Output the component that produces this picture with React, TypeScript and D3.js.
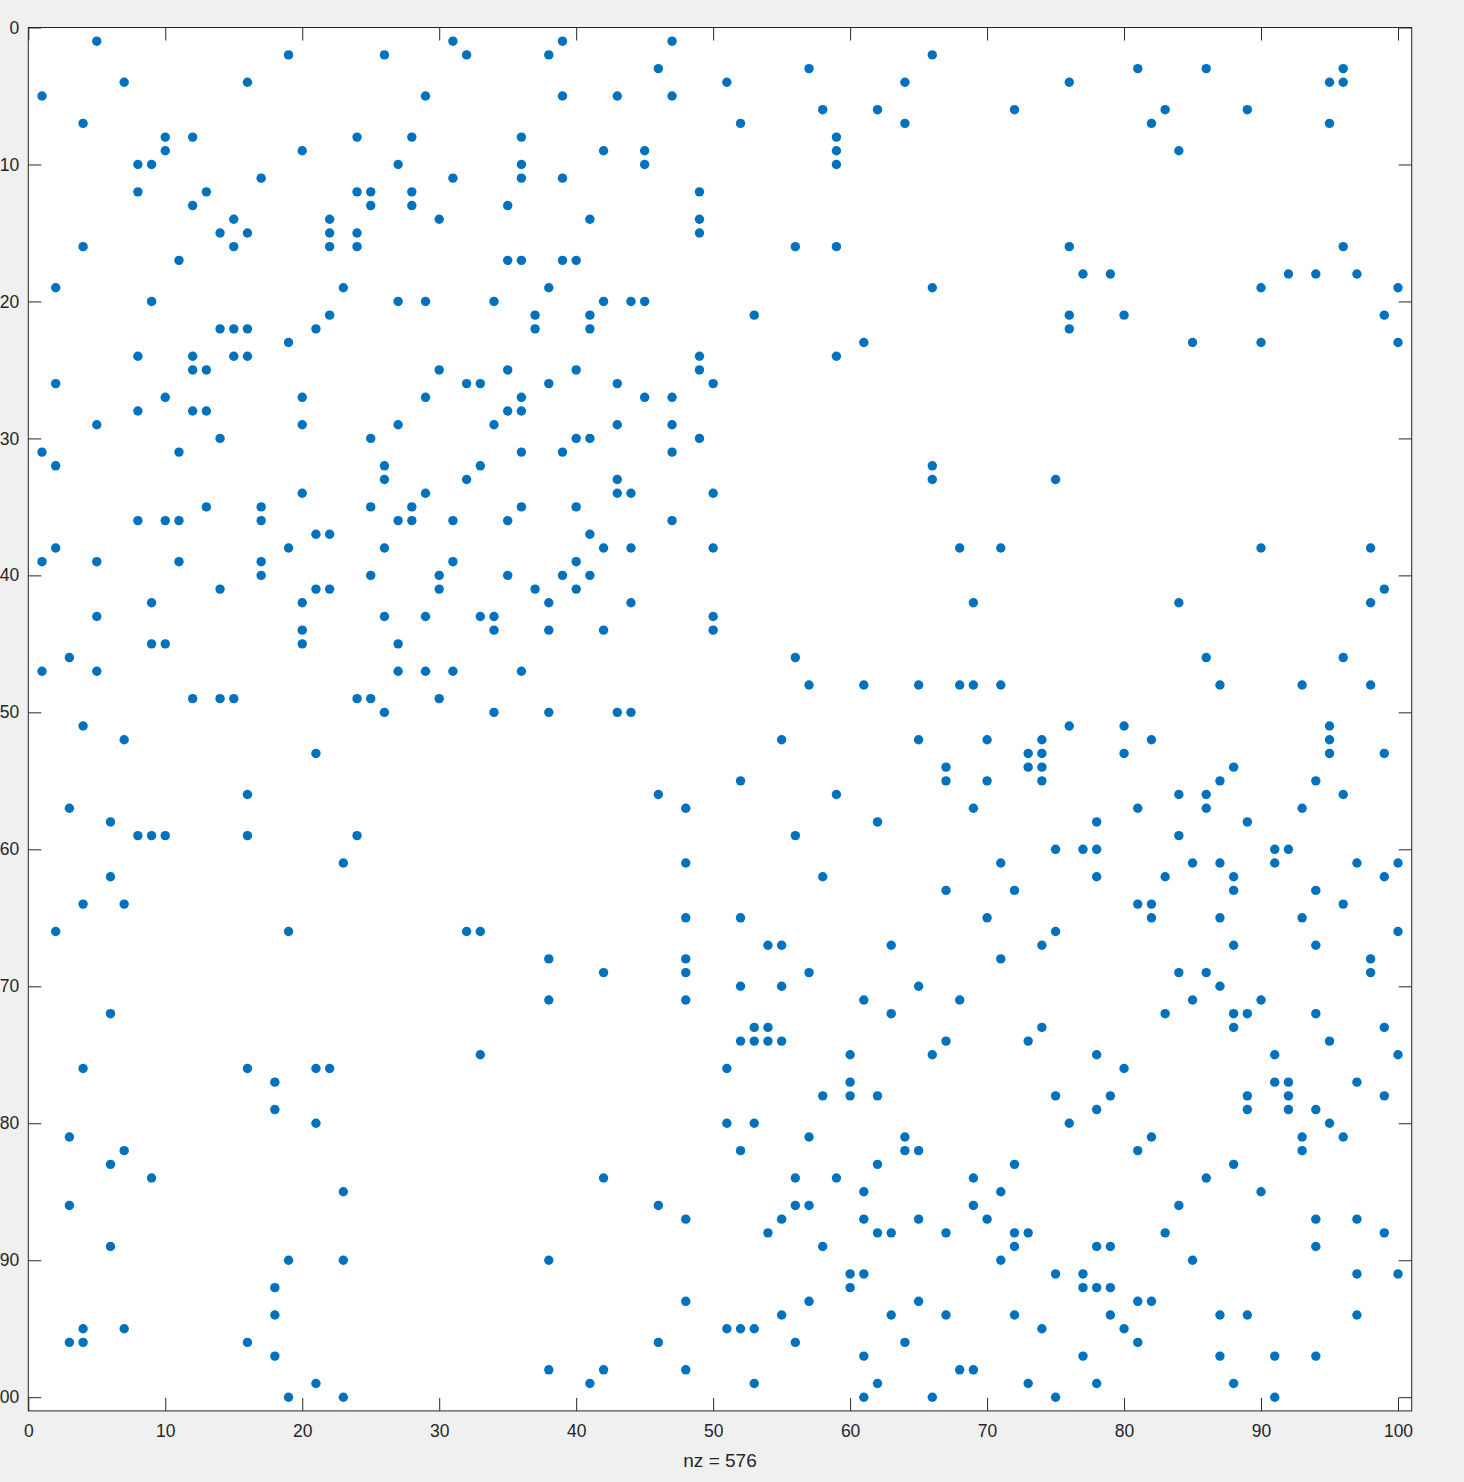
import React, { useEffect, useRef } from "react";
import * as d3 from "d3";

// Sparse matrix pattern: for each row (1..100), the column indices of its nonzeros
const ROW_COLS: number[][] = [
  [5, 31, 39, 47],
  [19, 26, 32, 38, 66],
  [46, 57, 81, 86, 96],
  [7, 16, 51, 64, 76, 95, 96],
  [1, 29, 39, 43, 47],
  [58, 62, 72, 83, 89],
  [4, 52, 64, 82, 95],
  [10, 12, 24, 28, 36, 59],
  [10, 20, 42, 45, 59, 84],
  [8, 9, 27, 36, 45, 59],
  [17, 31, 36, 39],
  [8, 13, 24, 25, 28, 49],
  [12, 25, 28, 35],
  [15, 22, 30, 41, 49],
  [14, 16, 22, 24, 49],
  [4, 15, 22, 24, 56, 59, 76, 96],
  [11, 35, 36, 39, 40],
  [77, 79, 92, 94, 97],
  [2, 23, 38, 66, 90, 100],
  [9, 27, 29, 34, 42, 44, 45],
  [22, 37, 41, 53, 76, 80, 99],
  [14, 15, 16, 21, 37, 41, 76],
  [19, 61, 85, 90, 100],
  [8, 12, 15, 16, 49, 59],
  [12, 13, 30, 35, 40, 49],
  [2, 32, 33, 38, 43, 50],
  [10, 20, 29, 36, 45, 47],
  [8, 12, 13, 35, 36],
  [5, 20, 27, 34, 43, 47],
  [14, 25, 40, 41, 49],
  [1, 11, 36, 39, 47],
  [2, 26, 33, 66],
  [26, 32, 43, 66, 75],
  [20, 29, 43, 44, 50],
  [13, 17, 25, 28, 36, 40],
  [8, 10, 11, 17, 27, 28, 31, 35, 47],
  [21, 22, 41],
  [2, 19, 26, 42, 44, 50, 68, 71, 90, 98],
  [1, 5, 11, 17, 31, 40],
  [17, 25, 30, 35, 39, 41],
  [14, 21, 22, 30, 37, 40, 99],
  [9, 20, 38, 44, 69, 84, 98],
  [5, 26, 29, 33, 34, 50],
  [20, 34, 38, 42, 50],
  [9, 10, 20, 27],
  [3, 56, 86, 96],
  [1, 5, 27, 29, 31, 36],
  [57, 61, 65, 68, 69, 71, 87, 93, 98],
  [12, 14, 15, 24, 25, 30],
  [26, 34, 38, 43, 44],
  [4, 76, 80, 95],
  [7, 55, 65, 70, 74, 82, 95],
  [21, 73, 74, 80, 95, 99],
  [67, 73, 74, 88],
  [52, 67, 70, 74, 87, 94],
  [16, 46, 59, 84, 86, 96],
  [3, 48, 69, 81, 86, 93],
  [6, 62, 78, 89],
  [8, 9, 10, 16, 24, 56, 84],
  [75, 77, 78, 91, 92],
  [23, 48, 71, 85, 87, 91, 97, 100],
  [6, 58, 78, 83, 88, 99],
  [67, 72, 88, 94],
  [4, 7, 81, 82, 96],
  [48, 52, 70, 82, 87, 93],
  [2, 19, 32, 33, 75, 100],
  [54, 55, 63, 74, 88, 94],
  [38, 48, 71, 98],
  [42, 48, 57, 84, 86, 98],
  [52, 55, 65, 87],
  [38, 48, 61, 68, 85, 90],
  [6, 63, 83, 88, 89, 94],
  [53, 54, 74, 88, 99],
  [52, 53, 54, 55, 67, 73, 95],
  [33, 60, 66, 78, 91, 100],
  [4, 16, 21, 22, 51, 80],
  [18, 60, 91, 92, 97],
  [58, 60, 62, 75, 79, 89, 92, 99],
  [18, 78, 89, 92, 94],
  [21, 51, 53, 76, 95],
  [3, 57, 64, 82, 93, 96],
  [7, 52, 64, 65, 81, 93],
  [6, 62, 72, 88],
  [9, 42, 56, 59, 69, 86],
  [23, 61, 71, 90],
  [3, 46, 56, 57, 69, 84],
  [48, 55, 61, 65, 70, 94, 97],
  [54, 62, 63, 67, 72, 73, 83, 99],
  [6, 58, 72, 78, 79, 94],
  [19, 23, 38, 71, 85],
  [60, 61, 75, 77, 97, 100],
  [18, 60, 77, 78, 79],
  [48, 57, 65, 81, 82],
  [18, 55, 63, 67, 72, 79, 87, 89, 97],
  [4, 7, 51, 52, 53, 74, 80],
  [3, 4, 16, 46, 56, 64, 81],
  [18, 61, 77, 87, 91, 94],
  [38, 42, 48, 68, 69],
  [21, 41, 53, 62, 73, 78, 88],
  [19, 23, 61, 66, 75, 91],
];

const N_SIZE = 100;
const X_TICKS = [0, 10, 20, 30, 40, 50, 60, 70, 80, 90, 100];
const Y_TICKS = [0, 10, 20, 30, 40, 50, 60, 70, 80, 90, 100];
const X_LABEL = "nz = 576";

const W = 1464;
const H = 1482;
const FONT = '"Liberation Sans", Arial, Helvetica, sans-serif';
const AXIS_COLOR = "#262626";
const DOT_COLOR = "#0072bd";

export default function App() {
  const ref = useRef<SVGSVGElement>(null);

  useEffect(() => {
    const svg = d3.select(ref.current);
    svg.selectAll("*").remove();

    svg.append("rect").attr("width", W).attr("height", H).attr("fill", "#f0f0f0");

    const x = d3.scaleLinear().domain([0, N_SIZE + 1]).range([28.3, 1411.7]);
    const y = d3.scaleLinear().domain([0, N_SIZE + 1]).range([27.5, 1410.9]);

    const x0 = x(0), x1 = x(N_SIZE + 1), y0 = y(0), y1 = y(N_SIZE + 1);

    svg.append("rect")
      .attr("x", x0).attr("y", y0)
      .attr("width", x1 - x0).attr("height", y1 - y0)
      .attr("fill", "#ffffff");

    const points = ROW_COLS.flatMap((cols, i) => cols.map((c) => ({ r: i + 1, c })));

    svg.append("g")
      .selectAll("circle")
      .data(points)
      .join("circle")
      .attr("cx", (d) => x(d.c))
      .attr("cy", (d) => y(d.r))
      .attr("r", 4.7)
      .attr("fill", DOT_COLOR);

    const tickLen = 13;

    const styleAxis = (g: d3.Selection<SVGGElement, unknown, null, undefined>) => {
      g.select(".domain").remove();
      g.selectAll(".tick line").attr("stroke", AXIS_COLOR).attr("stroke-width", 1);
      g.selectAll(".tick text")
        .attr("fill", AXIS_COLOR)
        .style("font-family", FONT)
        .style("font-size", "17.5px");
    };

    svg.append("g")
      .attr("transform", `translate(0,${y1})`)
      .call(d3.axisBottom(x).tickValues(X_TICKS).tickFormat(d3.format("d")).tickSizeInner(-tickLen).tickSizeOuter(0).tickPadding(14))
      .call(styleAxis);

    svg.append("g")
      .attr("transform", `translate(0,${y0})`)
      .call(d3.axisTop(x).tickValues(X_TICKS).tickFormat(() => "").tickSizeInner(-tickLen).tickSizeOuter(0))
      .call(styleAxis);

    svg.append("g")
      .attr("transform", `translate(${x0},0)`)
      .call(d3.axisLeft(y).tickValues(Y_TICKS).tickFormat(d3.format("d")).tickSizeInner(-tickLen).tickSizeOuter(0).tickPadding(9))
      .call(styleAxis);

    svg.append("g")
      .attr("transform", `translate(${x1},0)`)
      .call(d3.axisRight(y).tickValues(Y_TICKS).tickFormat(() => "").tickSizeInner(-tickLen).tickSizeOuter(0))
      .call(styleAxis);

    svg.append("rect")
      .attr("x", x0).attr("y", y0)
      .attr("width", x1 - x0).attr("height", y1 - y0)
      .attr("fill", "none")
      .attr("stroke", AXIS_COLOR)
      .attr("stroke-width", 1);

    svg.append("text")
      .attr("x", (x0 + x1) / 2)
      .attr("y", 1467)
      .attr("text-anchor", "middle")
      .attr("fill", AXIS_COLOR)
      .style("font-family", FONT)
      .style("font-size", "19px")
      .text(X_LABEL);
  }, []);

  return (
    <div style={{ position: "absolute", left: 0, top: 0 }}>
      <svg ref={ref} width={W} height={H} style={{ display: "block" }} />
    </div>
  );
}
